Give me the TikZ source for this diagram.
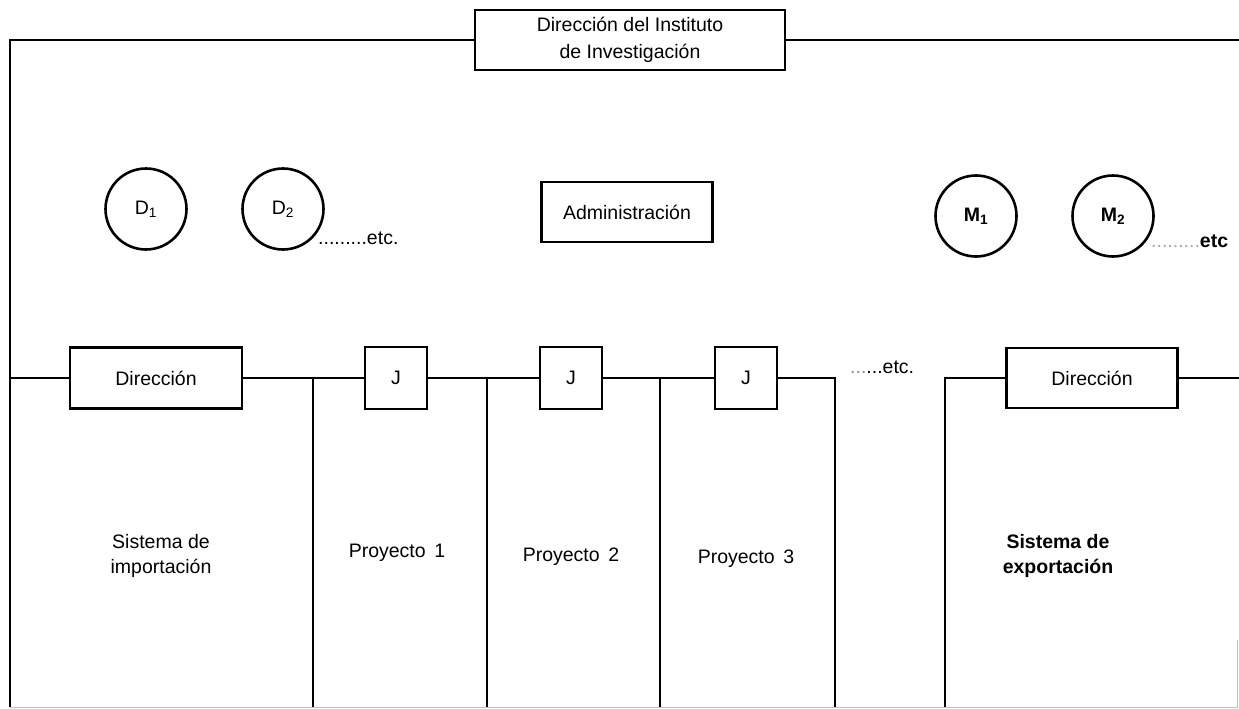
\documentclass[tikz,border=0pt]{standalone}
\usepackage{fontspec}
\setmainfont{Liberation Sans}
\newcommand{\lbl}{\fontsize{19.5}{24.5}\selectfont}
\begin{document}
\begin{tikzpicture}[x=1pt,y=-1pt,
  wire/.style={line width=2.1pt},
  box/.style={draw, line width=2.4pt, inner sep=0pt, align=center, font=\lbl},
  unit/.style={draw, circle, line width=2.6pt, minimum size=81pt, inner sep=0pt, font=\lbl},
  txt/.style={inner sep=0pt, align=center, font=\lbl},
  faint/.style={line width=0.8pt, black!25}]
\useasboundingbox (0,0) rectangle (1239,709);

% top management box and the frame line leaving it
\node[box, minimum width=310pt, minimum height=60pt] (top) at (630,40)
  {Dirección del Instituto\\[2pt]de Investigación};
\coordinate (tl) at (10,40);
\coordinate (tr) at (1239,40);
\coordinate (bl) at (10,707);
\draw[wire] (top.west) -- (tl) -- (bl);
\draw[wire] (top.east) -- (tr);

% staff units
\node[unit] (d1) at (146,209) {D\textsubscript{1}};
\node[unit] (d2) at (283,209) {D\textsubscript{2}};
\node[txt, anchor=base west] (detc) at (318,244) {.........etc.};
\node[box, minimum width=171pt, minimum height=60pt] (adm) at (627,212) {Administración};
\node[unit, font=\lbl\bfseries] (m1) at (976,216) {M\textsubscript{1}};
\node[unit, font=\lbl\bfseries] (m2) at (1113,216) {M\textsubscript{2}};
\node[txt, anchor=base west] (metc) at (1151,247) {\textcolor{black!35}{.........}\textbf{etc}};

% middle row: directions and project heads
\node[box, minimum width=172pt, minimum height=61pt] (dirL) at (156,378) {Dirección};
\node[box, minimum width=62pt, minimum height=62pt] (j1) at (396,378) {J};
\node[box, minimum width=62pt, minimum height=62pt] (j2) at (571,378) {J};
\node[box, minimum width=62pt, minimum height=62pt] (j3) at (746,378) {J};
\node[txt, anchor=base west] (jetc) at (850,373) {\textcolor{black!45}{...}...etc.};
\node[box, minimum width=171pt, minimum height=60pt] (dirR) at (1092,378) {Dirección};

\coordinate (ml) at (10,378);
\coordinate (v1) at (313,378);
\coordinate (v2) at (487,378);
\coordinate (v3) at (660,378);
\coordinate (v4) at (835,378);
\coordinate (v5) at (945,378);
\coordinate (mr) at (1239,378);

\draw[wire] (ml) -- (dirL.west);
\draw[wire] (dirL.east) -- (j1.west);
\draw[wire] (j1.east) -- (j2.west);
\draw[wire] (j2.east) -- (j3.west);
\draw[wire] (j3.east) -- (v4) -- (v4 |- bl);
\draw[wire] (v1) -- (v1 |- bl);
\draw[wire] (v2) -- (v2 |- bl);
\draw[wire] (v3) -- (v3 |- bl);
\draw[wire] (v5 |- bl) -- (v5) -- (dirR.west);
\draw[wire] (dirR.east) -- (mr);

% lower edge of the columns
\draw[faint] (bl) -- (1237,707) -- (1237,640);

% column titles
\node[txt] (simp) at (161,556) {Sistema de\\importación};
\node[txt] (p1) at (397,553) {Proyecto\, 1};
\node[txt] (p2) at (571,557) {Proyecto\, 2};
\node[txt] (p3) at (746,559) {Proyecto\, 3};
\node[txt, font=\lbl\bfseries] (sexp) at (1058,556) {Sistema de\\exportación};
\end{tikzpicture}
\end{document}
